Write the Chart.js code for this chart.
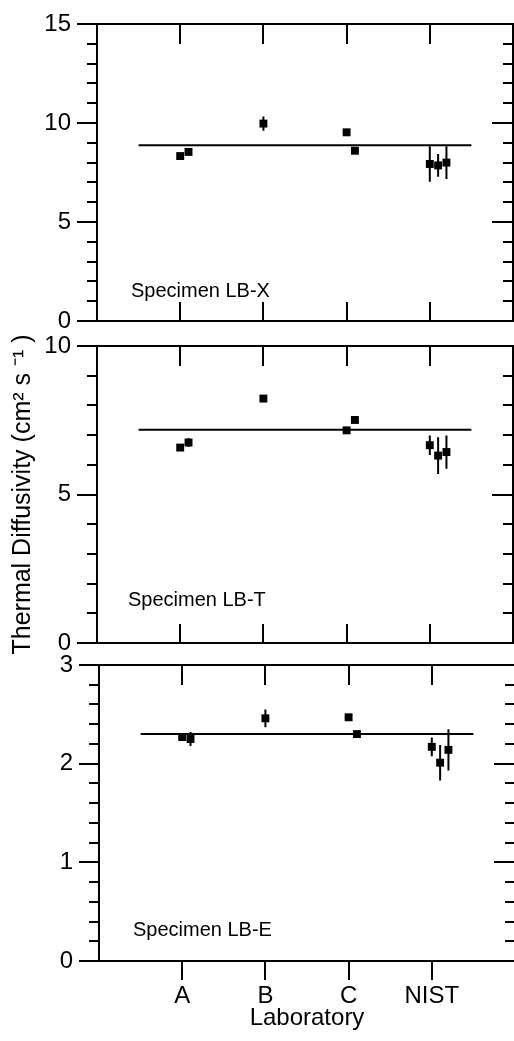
<!DOCTYPE html>
<html>
<head>
<meta charset="utf-8">
<script src="https://cdn.jsdelivr.net/npm/chart.js@4.4.1/dist/chart.umd.min.js"></script>
<style>
  html, body { margin: 0; padding: 0; background: #fff; }
  #wrap { position: relative; width: 514px; height: 1041px; overflow: hidden; background: #fff; }
  canvas { position: absolute; }
</style>
</head>
<body>
<div id="wrap">
  <canvas id="c1" width="514" height="325" style="left:0;top:10px"></canvas>
  <canvas id="c2" width="514" height="325" style="left:0;top:332px"></canvas>
  <canvas id="c3" width="514" height="390" style="left:2px;top:651px"></canvas>
</div>
<script>
// labs on the x axis, sub-positions for repeat measurements
const labs = ['A', 'B', 'C', 'NIST'];
const xPos = [1, 1.1, 2, 3, 3.1, 4, 4.1, 4.2];

// Specimen LB-X
const lbxVal = [8.33, 8.54, 9.97, 9.53, 8.60, 7.93, 7.86, 8.00];
const lbxErr = [0.05, 0.15, 0.36, 0.05, 0.05, 0.90, 0.57, 0.83];
const lbxMean = 8.87;

// Specimen LB-T
const lbtVal = [6.58, 6.75, 8.23, 7.16, 7.51, 6.66, 6.31, 6.43];
const lbtErr = [0.05, 0.15, 0.12, 0.05, 0.05, 0.33, 0.62, 0.56];
const lbtMean = 7.18;

// Specimen LB-E
const lbeVal = [2.27, 2.25, 2.46, 2.47, 2.30, 2.17, 2.01, 2.14];
const lbeErr = [0.04, 0.07, 0.09, 0.02, 0.02, 0.095, 0.18, 0.21];
const lbeMean = 2.30;

Chart.defaults.font.family = '"Liberation Sans", Arial, sans-serif';
Chart.defaults.color = '#000';

const framePlugin = {
  id: 'frame',
  afterDraw(chart, args, o) {
    const { ctx, chartArea: a, scales: { x, y } } = chart;
    ctx.save();
    ctx.strokeStyle = '#000';
    ctx.lineWidth = 2;
    ctx.strokeRect(a.left, a.top, a.right - a.left, a.bottom - a.top);
    ctx.beginPath();
    const n = Math.round(y.max / o.minor);
    for (let i = 0; i <= n; i++) {
      const v = i * o.minor;
      const py = Math.round(y.getPixelForValue(v));
      const q = v / o.major;
      const major = Math.abs(q - Math.round(q)) < 1e-6;
      ctx.moveTo(a.left - (major ? 20 : 10), py);
      ctx.lineTo(a.left, py);
      ctx.moveTo(a.right - (major ? 21 : 10), py);
      ctx.lineTo(a.right, py);
    }
    labs.forEach((l, i) => {
      const px = Math.round(x.getPixelForValue(i + 1));
      ctx.moveTo(px, a.top);
      ctx.lineTo(px, a.top + 20);
      if (o.innerBottom) {
        ctx.moveTo(px, a.bottom);
        ctx.lineTo(px, a.bottom - 19);
      }
    });
    ctx.stroke();
    ctx.fillStyle = '#000';
    ctx.font = '20px "Liberation Sans", Arial, sans-serif';
    ctx.textBaseline = 'alphabetic';
    ctx.fillText(o.label, a.left + o.dx, a.bottom - o.dy);
    ctx.restore();
  }
};

const errPlugin = {
  id: 'errbars',
  beforeDatasetsDraw(chart, args, o) {
    const { ctx, scales: { x, y } } = chart;
    ctx.save();
    ctx.strokeStyle = '#000';
    ctx.lineWidth = 2;
    ctx.beginPath();
    o.vals.forEach((v, i) => {
      const px = x.getPixelForValue(xPos[i]);
      ctx.moveTo(px, y.getPixelForValue(v - o.errs[i]));
      ctx.lineTo(px, y.getPixelForValue(v + o.errs[i]));
    });
    ctx.stroke();
    ctx.restore();
  }
};

function makePanel(id, vals, errs, mean, ymax, major, minor, label, dx, dy, last, withTitle) {
  return new Chart(document.getElementById(id), {
    type: 'scatter',
    data: {
      datasets: [
        {
          data: xPos.map((x, i) => ({ x: x, y: vals[i] })),
          pointStyle: 'rect',
          pointRadius: 5.6,
          pointBorderWidth: 0,
          backgroundColor: '#000',
          order: 0
        },
        {
          data: [{ x: 0.5, y: mean }, { x: 4.5, y: mean }],
          showLine: true,
          borderColor: '#000',
          borderWidth: 2,
          pointRadius: 0,
          order: 1
        }
      ]
    },
    options: {
      responsive: false,
      animation: false,
      events: [],
      layout: { autoPadding: false, padding: { left: 0, right: 1, top: 14, bottom: last ? 0 : 14 } },
      plugins: {
        legend: { display: false },
        tooltip: { enabled: false },
        frame: { minor: minor, major: major, label: label, dx: dx, dy: dy, innerBottom: !last },
        errbars: { vals: vals, errs: errs }
      },
      scales: {
        x: {
          type: 'linear',
          min: 0,
          max: 5,
          display: last,
          afterBuildTicks: s => { s.ticks = labs.map((l, i) => ({ value: i + 1 })); },
          afterFit: s => {
            if (last) s.height = 80;
            s.paddingLeft = 0;
            s.paddingRight = 0;
          },
          ticks: {
            callback: (v, i) => labs[i],
            font: { size: 24 },
            color: '#000',
            padding: 2,
            maxRotation: 0,
            autoSkip: false
          },
          grid: { drawOnChartArea: false, drawTicks: true, tickLength: 19, color: '#000', lineWidth: 2 },
          border: { display: false },
          title: { display: last, text: 'Laboratory', font: { size: 24 }, color: '#000', padding: { top: 0, bottom: 8 } }
        },
        y: {
          min: 0,
          max: ymax,
          afterFit: s => {
            s.width = 97;
            s.paddingTop = 0;
            s.paddingBottom = 0;
          },
          ticks: { stepSize: major, font: { size: 24 }, color: '#000', padding: 26 },
          grid: { display: false, drawTicks: false },
          border: { display: false },
          title: {
            display: withTitle,
            text: 'Thermal Diffusivity (cm² s ⁻¹ )',
            font: { size: 25 },
            color: '#000',
            padding: { top: 8, bottom: 0 }
          }
        }
      }
    },
    plugins: [framePlugin, errPlugin]
  });
}

makePanel('c1', lbxVal, lbxErr, lbxMean, 15, 5, 1, 'Specimen LB-X', 34, 24, false, false);
makePanel('c2', lbtVal, lbtErr, lbtMean, 10, 5, 1, 'Specimen LB-T', 31, 37, false, true);
makePanel('c3', lbeVal, lbeErr, lbeMean, 3, 1, 0.2, 'Specimen LB-E', 34, 25, true, false);
</script>
</body>
</html>
